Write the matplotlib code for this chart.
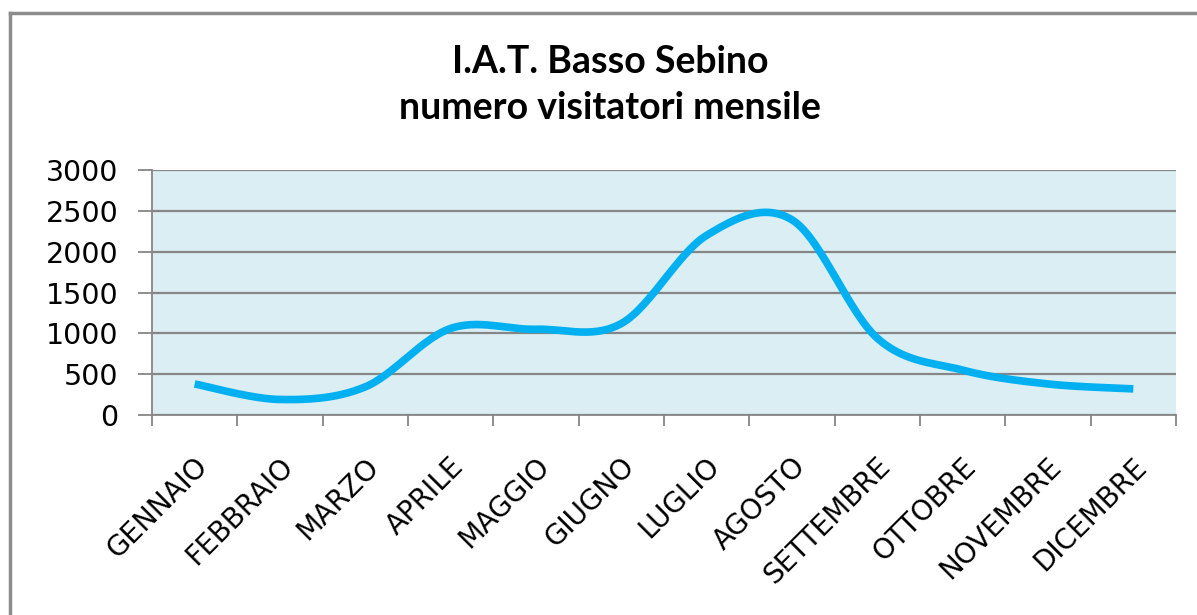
import matplotlib
matplotlib.use('Agg')
import matplotlib.pyplot as plt
from matplotlib.lines import Line2D
from matplotlib.transforms import ScaledTranslation
import numpy as np

mesi = ['GENNAIO', 'FEBBRAIO', 'MARZO', 'APRILE', 'MAGGIO', 'GIUGNO',
        'LUGLIO', 'AGOSTO', 'SETTEMBRE', 'OTTOBRE', 'NOVEMBRE', 'DICEMBRE']
visitatori = [380, 190, 345, 1060, 1050, 1120, 2200, 2390, 940, 550, 380, 320]
y_ticks = [0, 500, 1000, 1500, 2000, 2500, 3000]
titolo = 'I.A.T. Basso Sebino\nnumero visitatori mensile'


def smooth(xs, ys, n=30):
    # catmull-rom, roughly what excel does for "smoothed line"
    xs = np.asarray(xs, float)
    ys = np.asarray(ys, float)
    px = np.concatenate([[xs[0]], xs, [xs[-1]]])
    py = np.concatenate([[ys[0]], ys, [ys[-1]]])
    out_x, out_y = [], []
    for i in range(1, len(px) - 2):
        t = np.linspace(0, 1, n, endpoint=False)
        m0x = (px[i + 1] - px[i - 1]) / 2
        m1x = (px[i + 2] - px[i]) / 2
        m0y = (py[i + 1] - py[i - 1]) / 2
        m1y = (py[i + 2] - py[i]) / 2
        h00 = 2 * t**3 - 3 * t**2 + 1
        h10 = t**3 - 2 * t**2 + t
        h01 = -2 * t**3 + 3 * t**2
        h11 = t**3 - t**2
        out_x.extend(h00 * px[i] + h10 * m0x + h01 * px[i + 1] + h11 * m1x)
        out_y.extend(h00 * py[i] + h10 * m0y + h01 * py[i + 1] + h11 * m1y)
    out_x.append(xs[-1])
    out_y.append(ys[-1])
    return out_x, out_y


fig = plt.figure(figsize=(11.97, 6.15), dpi=100)
ax = fig.add_axes([152 / 1197, 1 - 415 / 615, (1176 - 152) / 1197, (415 - 170) / 615])
ax.set_facecolor('#DBEEF4')

x = np.arange(len(mesi))
sx, sy = smooth(x, visitatori)
ax.plot(sx, sy, color='#00B0F0', lw=5.5, solid_capstyle='butt', zorder=3)

ax.set_xlim(-0.5, len(mesi) - 0.5)
ax.set_ylim(0, 3000)
ax.set_yticks(y_ticks)
ax.set_yticklabels([str(v) for v in y_ticks], fontsize=20.5, family='DejaVu Sans')
ax.yaxis.grid(True, color='#868686', lw=1.6)
ax.set_axisbelow(True)

ax.set_xticks(x)
ax.set_xticklabels(mesi, rotation=45, ha='right', va='center', rotation_mode='anchor',
                   fontsize=20, family='DejaVu Sans')
ax.set_xticks(np.arange(len(mesi) + 1) - 0.5, minor=True)
ax.tick_params(axis='x', which='major', length=0, pad=34)
ax.tick_params(axis='x', which='minor', length=8, width=1.3, color='#868686')
ax.tick_params(axis='y', length=10, width=1.3, color='#868686', pad=14)
shift = ScaledTranslation(9 / 100, 0, fig.dpi_scale_trans)
for lbl in ax.get_xticklabels():
    lbl.set_transform(lbl.get_transform() + shift)

for s in ['top', 'right']:
    ax.spines[s].set_visible(False)
for s in ['left', 'bottom']:
    ax.spines[s].set_color('#868686')
    ax.spines[s].set_linewidth(1.3)

fig.text(610 / 1197, 1 - 85 / 615, titolo, ha='center', va='center', fontsize=27,
         fontweight='bold', family='Lato', linespacing=1.45)

# outer chart frame (only top and left visible)
fig.add_artist(Line2D([10 / 1197, 10 / 1197], [0, 1 - 13 / 615], color='#8C8C8C', lw=2.5))
fig.add_artist(Line2D([10 / 1197, 1], [1 - 13 / 615, 1 - 13 / 615], color='#8C8C8C', lw=2.5))

fig.savefig('out.png', dpi=100)
